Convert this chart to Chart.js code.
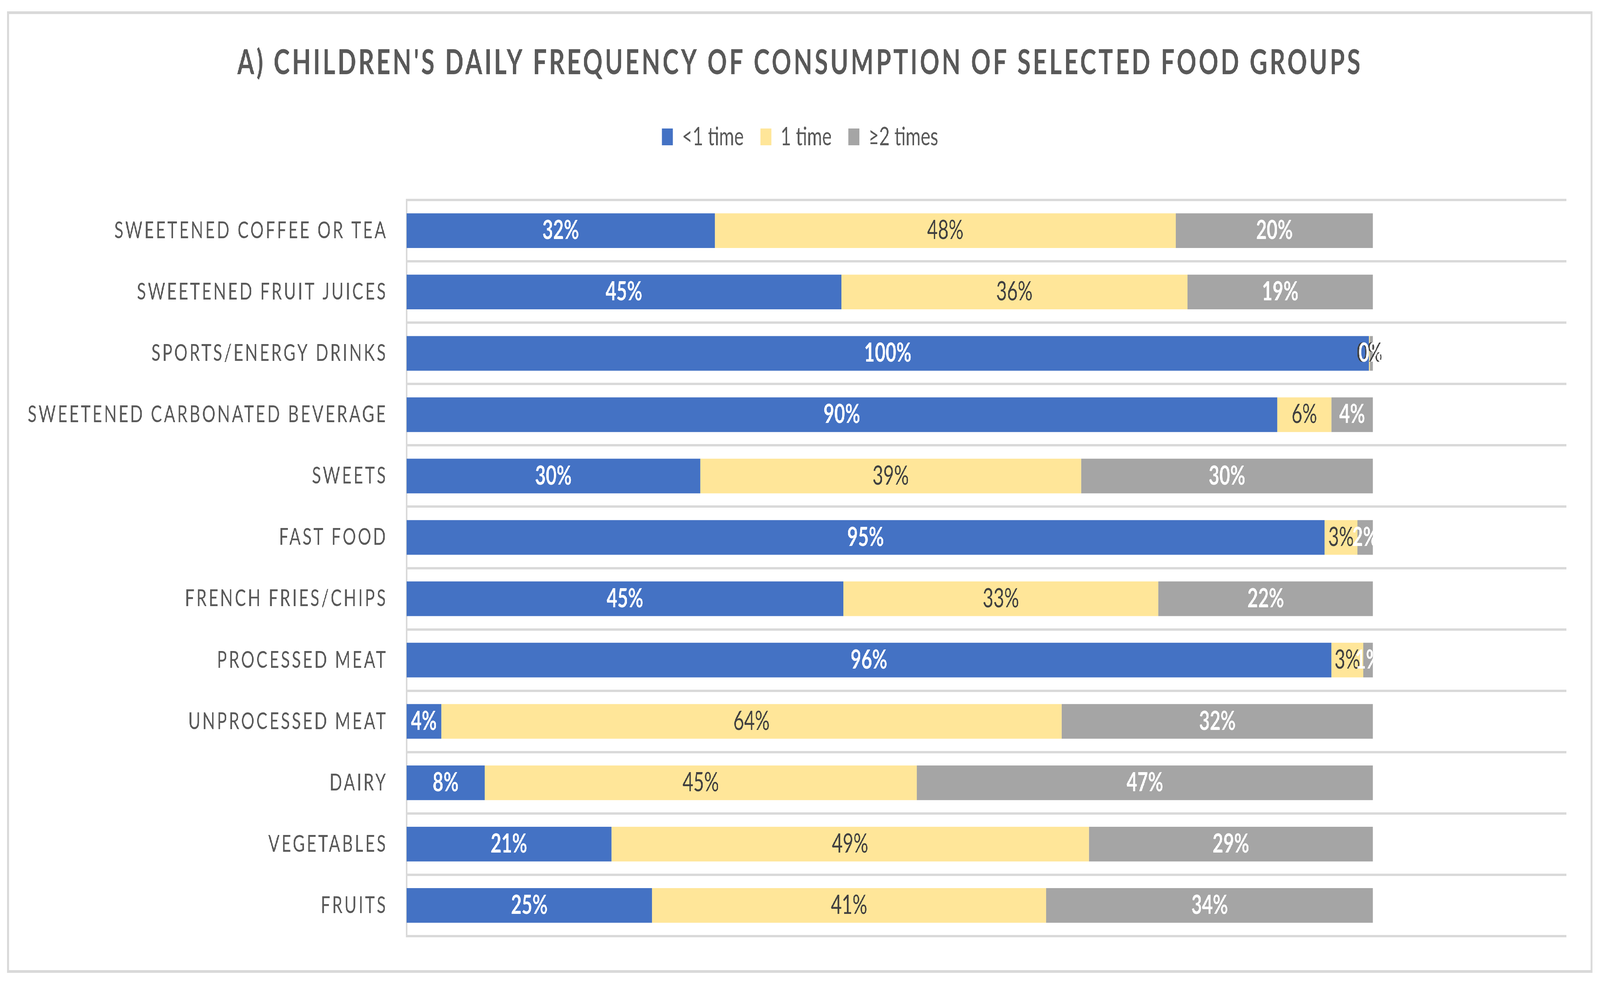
<!DOCTYPE html>
<html>
<head>
<meta charset="utf-8">
<title>Children's daily frequency of consumption</title>
<script src="https://cdn.jsdelivr.net/npm/chart.js@4/dist/chart.umd.min.js"></script>
<style>
    html, body { margin: 0; padding: 0; background: #ffffff; overflow: hidden; }
    #wrap { position: absolute; left: 0; top: 0; width: 5782px; height: 2517px; transform-origin: 0 0; }
    #frame {
        position: absolute; left: 26px; top: 29px; width: 5729px; height: 2462px;
        border: 7px solid #d9d9d9; box-sizing: border-box; pointer-events: none;
    }
</style>
</head>
<body>
<div id="wrap">
    <canvas id="foodChart" width="5782" height="2517"></canvas>
    <div id="frame"></div>
</div>
<script>
const chartTitle = "A) CHILDREN'S DAILY FREQUENCY OF CONSUMPTION OF SELECTED FOOD GROUPS";

const categories = [
    "SWEETENED COFFEE OR TEA",
    "SWEETENED FRUIT JUICES",
    "SPORTS/ENERGY DRINKS",
    "SWEETENED CARBONATED BEVERAGE",
    "SWEETS",
    "FAST FOOD",
    "FRENCH FRIES/CHIPS",
    "PROCESSED MEAT",
    "UNPROCESSED MEAT",
    "DAIRY",
    "VEGETABLES",
    "FRUITS"
];

const seriesNames = ["<1 time", "1 time", "≥2 times"];

// percentages
const lessThanOnce = [31.9, 45.0, 99.6, 90.1, 30.4, 95.0, 45.2, 95.7, 3.6, 8.1, 21.2, 25.4];
const once = [47.7, 35.8, 0.1, 5.6, 39.4, 3.4, 32.6, 3.3, 64.2, 44.7, 49.4, 40.8];
const twiceOrMore = [20.4, 19.2, 0.3, 4.3, 30.2, 1.6, 22.2, 1.0, 32.2, 47.2, 29.4, 33.8];

const axisMin = 0;
const axisMax = 120;

const barColors = ["#4472C4", "#FFE699", "#A5A5A5"];
const labelColors = ["#ffffff", "#404040", "#ffffff"];
const labelWeights = ["bold", "normal", "bold"];

// the chart is drawn at 5782x2517 and scaled to whatever window we get
function fitToWindow() {
    const sx = window.innerWidth / 5782;
    const sy = window.innerHeight / 2517;
    document.getElementById('wrap').style.transform = `scale(${sx}, ${sy})`;
}
fitToWindow();

// draws the value inside every segment, and handles the letter spacing
const segmentLabels = {
    id: 'segmentLabels',
    afterInit(chart) {
        const tb = chart.titleBlock;
        if (tb) {
            tb._layers = () => [{
                z: 0,
                draw(area) {
                    const c = chart.ctx;
                    c.save();
                    c.letterSpacing = '8.3px';
                    tb.draw(area);
                    c.restore();
                }
            }];
        }
    },
    beforeDatasetsDraw(chart) {
        chart.ctx.letterSpacing = '0px';
    },
    afterDatasetsDraw(chart) {
        const ctx = chart.ctx;
        ctx.save();
        ctx.letterSpacing = '0px';
        ctx.textAlign = 'center';
        ctx.textBaseline = 'middle';
        chart.data.datasets.forEach((ds, i) => {
            const meta = chart.getDatasetMeta(i);
            ctx.font = labelWeights[i] + ' 67px Lato';
            ctx.fillStyle = labelColors[i];
            meta.data.forEach((bar, j) => {
                const cx = (bar.x + bar.base) / 2;
                ctx.fillText(Math.round(ds.data[j]) + '%', cx, bar.y);
            });
        });
        ctx.restore();
        // category tick labels come next (ticks z = 1)
        ctx.letterSpacing = '7px';
    },
    afterDraw(chart) {
        chart.ctx.letterSpacing = '0px';
    }
};

const ctx = document.getElementById('foodChart').getContext('2d');
new Chart(ctx, {
    type: 'bar',
    data: {
        labels: categories,
        datasets: [
            { label: seriesNames[0], data: lessThanOnce, backgroundColor: barColors[0] },
            { label: seriesNames[1], data: once, backgroundColor: barColors[1] },
            { label: seriesNames[2], data: twiceOrMore, backgroundColor: barColors[2] }
        ]
    },
    options: {
        indexAxis: 'y',
        responsive: false,
        devicePixelRatio: 1,
        animation: false,
        datasets: {
            bar: { categoryPercentage: 0.565, barPercentage: 1, borderWidth: 0 }
        },
        layout: { padding: { top: 0, left: 40, right: 40, bottom: 120 } },
        plugins: {
            title: {
                display: true,
                text: chartTitle,
                color: '#595959',
                font: { family: 'Lato', size: 88, weight: 'bold' },
                padding: { top: 109, bottom: 43 }
            },
            legend: {
                display: true,
                position: 'top',
                labels: {
                    color: '#595959',
                    font: { family: 'Lato', size: 66 },
                    boxWidth: 40,
                    boxHeight: 43,
                    padding: 60
                }
            },
            tooltip: { enabled: false }
        },
        scales: {
            x: {
                type: 'linear',
                position: 'top',
                stacked: true,
                min: axisMin,
                max: axisMax,
                grid: { display: false },
                border: { display: false },
                ticks: { display: false },
                afterFit(scale) { scale.height = 118.5; }
            },
            y: {
                type: 'category',
                stacked: true,
                grid: { color: '#D9D9D9', lineWidth: 6, offset: true, drawTicks: false },
                border: { display: true, color: '#D9D9D9', width: 6 },
                ticks: {
                    z: 1,
                    autoSkip: false,
                    padding: 68,
                    color: '#595959',
                    font: { family: 'Lato', size: 60 }
                },
                afterFit(scale) { scale.width = 1429; }
            },
            // empty axis on the right, only keeps the plot edge where it is
            yRight: {
                type: 'category',
                position: 'right',
                grid: { display: false },
                border: { display: false },
                ticks: { display: false },
                afterFit(scale) { scale.width = 82; }
            }
        }
    },
    plugins: [segmentLabels]
});
</script>
</body>
</html>
